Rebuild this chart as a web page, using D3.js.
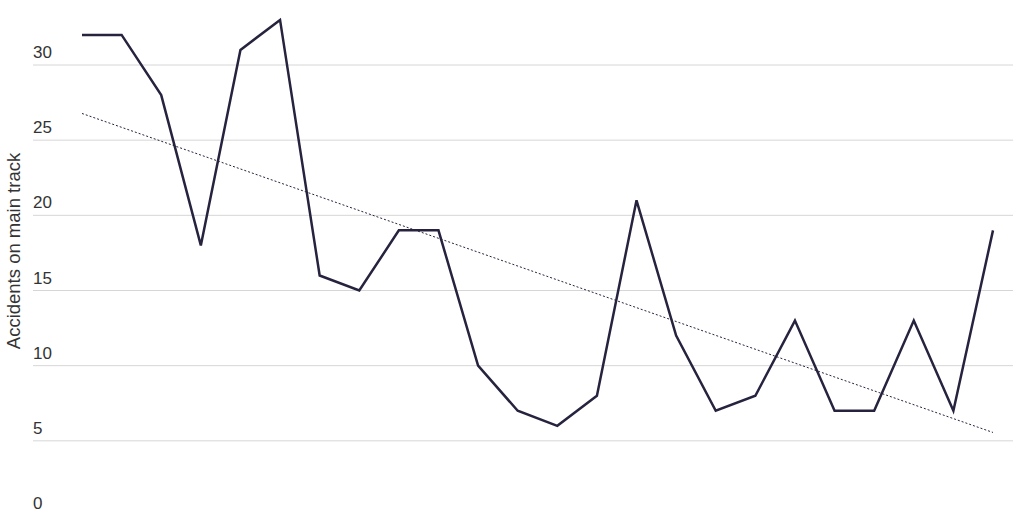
<!DOCTYPE html>
<html>
<head>
<meta charset="utf-8">
<script src="https://cdn.jsdelivr.net/npm/d3@7"></script>
<style>
  body { margin: 0; background: #fff; }
  svg text { font-family: "Liberation Sans", Arial, sans-serif; fill: #333; }
</style>
</head>
<body>
<div id="chart"></div>
<script>
(function () {
  "use strict";

  // one point per year, oldest first
  var years = d3.range(24);
  var accidents = [32, 32, 28, 18, 31, 33, 16, 15, 19, 19, 10, 7, 6, 8, 21, 12, 7, 8, 13, 7, 7, 13, 7, 19];
  var yTicks = [0, 5, 10, 15, 20, 25, 30];
  var yTitle = "Accidents on main track";

  var width = 1024,
    height = 512;

  var x = d3.scaleLinear().domain([0, years.length - 1]).range([82, 993]);
  var y = d3.scaleLinear().domain([0, 30]).range([516, 65]);

  var svg = d3.select("#chart")
    .append("svg")
    .attr("width", width)
    .attr("height", height);

  // gridlines (no line at zero)
  svg.append("g")
    .selectAll("line")
    .data(yTicks.filter(function (d) { return d > 0; }))
    .enter()
    .append("line")
    .attr("x1", 33)
    .attr("x2", 1013)
    .attr("y1", function (d) { return y(d); })
    .attr("y2", function (d) { return y(d); })
    .attr("stroke", "#d6d6d6")
    .attr("stroke-width", 1);

  // tick labels sit just above their gridline
  svg.append("g")
    .selectAll("text")
    .data(yTicks)
    .enter()
    .append("text")
    .attr("x", 33)
    .attr("y", function (d) { return y(d) - 7; })
    .attr("font-size", 17)
    .text(function (d) { return d; });

  svg.append("text")
    .attr("transform", "translate(20,251) rotate(-90)")
    .attr("text-anchor", "middle")
    .attr("font-size", 18.5)
    .text(yTitle);

  // least squares trend
  var n = accidents.length,
    mx = d3.mean(years),
    my = d3.mean(accidents),
    sxy = d3.sum(years, function (d, i) { return (d - mx) * (accidents[i] - my); }),
    sxx = d3.sum(years, function (d) { return (d - mx) * (d - mx); }),
    slope = sxy / sxx,
    icept = my - slope * mx;

  svg.append("line")
    .attr("x1", x(years[0]))
    .attr("x2", x(years[n - 1]))
    .attr("y1", y(icept + slope * years[0]))
    .attr("y2", y(icept + slope * years[n - 1]))
    .attr("stroke", "#26233f")
    .attr("stroke-width", 1)
    .attr("stroke-dasharray", "2,2");

  var line = d3.line()
    .x(function (d, i) { return x(years[i]); })
    .y(function (d) { return y(d); });

  svg.append("path")
    .datum(accidents)
    .attr("d", line)
    .attr("fill", "none")
    .attr("stroke", "#26233f")
    .attr("stroke-width", 2.5)
    .attr("stroke-linejoin", "miter");
}());
</script>
</body>
</html>
